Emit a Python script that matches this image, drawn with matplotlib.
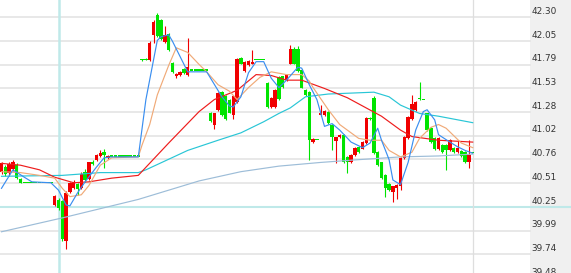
import numpy as np
import matplotlib.pyplot as plt
from matplotlib.patches import Rectangle
from matplotlib import transforms

# candle data (one per bar)
opens = [40.63, 40.68, 40.62, 40.66, 40.70, 40.55, 40.51, 40.51, 40.51, 40.51,
         40.51, 40.51, 40.51, 40.51, 40.27, 40.32, 40.31, 39.88, 40.41, 40.45,
         40.50, 40.45, 40.63, 40.55, 40.74, 40.76, 40.80, 40.84, 40.78, 40.80,
         40.80, 40.80, 40.80, 40.80, 40.80, 40.80, 40.80, 41.84, 41.85, 41.84,
         42.11, 42.32, 42.27, 42.03, 42.12, 41.81, 41.66, 41.68, 41.74, 41.68,
         41.73, 41.73, 41.73, 41.73, 41.73, 41.27, 41.14, 41.30, 41.49, 41.45,
         41.41, 41.24, 41.38, 41.86, 41.72, 41.78, 41.80, 41.84, 41.84, 41.84,
         41.59, 41.33, 41.33, 41.65, 41.66, 41.62, 41.80, 41.96, 41.96, 41.73,
         41.51, 41.49, 40.95, 40.98, 41.24, 41.24, 41.28, 41.14, 40.96, 41.00,
         41.03, 40.79, 40.73, 40.81, 40.90, 40.88, 40.94, 41.21, 41.43, 40.84,
         40.73, 40.59, 40.50, 40.41, 40.45, 40.47, 40.78, 40.99, 41.20, 41.30,
         41.43, 41.41, 41.26, 41.10, 40.99, 40.87, 40.92, 40.92, 40.86, 40.89,
         40.84, 40.85, 40.84, 40.73, 40.84]
highs = [40.74, 40.70, 40.74, 40.76, 40.72, 40.56, 40.51, 40.51, 40.51, 40.51,
         40.51, 40.51, 40.51, 40.51, 40.38, 40.34, 40.32, 40.42, 40.52, 40.54,
         40.51, 40.63, 40.66, 40.74, 40.76, 40.82, 40.86, 40.88, 40.81, 40.80,
         40.80, 40.80, 40.80, 40.80, 40.80, 40.80, 40.80, 41.85, 41.86, 42.04,
         42.27, 42.35, 42.28, 42.21, 42.13, 41.82, 41.70, 41.72, 41.75, 42.08,
         41.73, 41.73, 41.73, 41.73, 41.73, 41.28, 41.27, 41.49, 41.50, 41.46,
         41.42, 41.46, 41.86, 41.87, 41.83, 41.84, 41.95, 41.84, 41.84, 41.84,
         41.60, 41.44, 41.52, 41.66, 41.67, 41.69, 42.00, 41.98, 41.99, 41.74,
         41.52, 41.50, 40.99, 40.98, 41.35, 41.30, 41.29, 41.15, 41.01, 41.04,
         41.04, 40.80, 40.82, 40.90, 40.91, 40.96, 41.22, 41.22, 41.45, 40.85,
         40.74, 40.60, 40.51, 40.48, 40.50, 40.79, 41.02, 41.23, 41.46, 41.39,
         41.60, 41.41, 41.27, 41.11, 41.00, 41.00, 40.93, 40.93, 40.98, 40.90,
         40.97, 40.86, 40.85, 40.97, 40.84]
lows = [40.60, 40.58, 40.58, 40.64, 40.55, 40.51, 40.51, 40.51, 40.51, 40.51,
        40.51, 40.51, 40.51, 40.51, 40.26, 40.22, 39.88, 39.79, 40.40, 40.44,
        40.38, 40.44, 40.52, 40.54, 40.70, 40.75, 40.79, 40.67, 40.77, 40.80,
        40.80, 40.80, 40.80, 40.80, 40.80, 40.80, 40.80, 41.83, 41.84, 41.83,
        42.02, 42.09, 42.05, 42.02, 41.94, 41.70, 41.64, 41.67, 41.69, 41.67,
        41.73, 41.73, 41.73, 41.73, 41.73, 41.17, 41.09, 41.29, 41.23, 41.19,
        41.26, 41.20, 41.37, 41.79, 41.71, 41.77, 41.79, 41.84, 41.84, 41.84,
        41.32, 41.32, 41.32, 41.41, 41.54, 41.61, 41.79, 41.79, 41.71, 41.53,
        41.45, 40.76, 40.94, 40.98, 41.23, 41.23, 41.15, 40.86, 40.72, 40.99,
        40.72, 40.62, 40.72, 40.80, 40.83, 40.87, 40.93, 41.19, 40.82, 40.69,
        40.55, 40.36, 40.42, 40.30, 40.33, 40.43, 40.77, 40.98, 41.19, 41.29,
        41.41, 41.41, 41.07, 40.94, 40.86, 40.86, 40.83, 40.65, 40.85, 40.83,
        40.83, 40.79, 40.72, 40.67, 40.84]
closes = [40.72, 40.60, 40.71, 40.73, 40.56, 40.51, 40.51, 40.51, 40.51, 40.51,
          40.51, 40.51, 40.51, 40.51, 40.37, 40.24, 39.90, 40.40, 40.51, 40.52,
          40.44, 40.61, 40.54, 40.73, 40.71, 40.81, 40.83, 40.81, 40.80, 40.80,
          40.80, 40.80, 40.80, 40.80, 40.80, 40.80, 40.80, 41.84, 41.84, 42.02,
          42.25, 42.10, 42.06, 42.11, 41.95, 41.71, 41.69, 41.71, 41.70, 41.76,
          41.73, 41.73, 41.73, 41.73, 41.73, 41.18, 41.26, 41.48, 41.24, 41.20,
          41.27, 41.45, 41.85, 41.80, 41.82, 41.83, 41.82, 41.84, 41.84, 41.84,
          41.33, 41.43, 41.51, 41.42, 41.55, 41.68, 41.96, 41.80, 41.72, 41.54,
          41.46, 40.97, 40.98, 40.98, 41.27, 41.29, 41.16, 41.00, 41.00, 41.03,
          40.73, 40.73, 40.81, 40.89, 40.84, 40.95, 41.21, 41.20, 40.83, 40.70,
          40.56, 40.45, 40.43, 40.47, 40.49, 40.78, 41.01, 41.22, 41.36, 41.38,
          41.42, 41.41, 41.08, 40.95, 40.87, 40.99, 40.84, 40.86, 40.97, 40.84,
          40.89, 40.80, 40.73, 40.81, 40.84]

# moving average lines, read at selected bars
ma5_idx = [0, 3, 6, 8, 13, 15, 17, 18, 20, 22, 25, 27, 29, 36, 38, 41, 42, 44, 45, 49,
           54, 58, 60, 61, 63, 65, 67, 69, 71, 73, 75, 78, 79, 81, 83, 85, 87, 89, 92, 95,
           97, 99, 100, 102, 103, 105, 107, 109, 111, 112, 114, 115, 118, 120, 122, 124]
ma5_val = [40.45, 40.65, 40.57, 40.52, 40.51, 40.43, 40.27, 40.26, 40.40, 40.52,
           40.68, 40.78, 40.79, 40.79, 41.41, 42.05, 42.09, 42.11, 42.04, 41.71,
           41.71, 41.44, 41.34, 41.33, 41.44, 41.70, 41.82, 41.82, 41.64, 41.54,
           41.62, 41.76, 41.75, 41.57, 41.41, 41.12, 41.15, 41.08, 40.95, 40.89,
           40.94, 41.10, 40.97, 40.76, 40.54, 40.49, 40.73, 41.08, 41.28, 41.30,
           41.19, 41.03, 40.95, 40.90, 40.86, 40.83]
ma10_idx = [0, 5, 10, 14, 16, 18, 21, 23, 26, 29, 36, 37, 39, 41, 44, 46, 49, 52, 54, 57,
            60, 62, 65, 68, 71, 75, 79, 81, 82, 86, 89, 94, 97, 100, 102, 105, 108, 110,
            113, 115, 117, 121, 124]
ma10_val = [40.63, 40.62, 40.59, 40.56, 40.45, 40.36, 40.38, 40.48, 40.70, 40.78,
            40.79, 40.92, 41.14, 41.46, 41.78, 41.97, 41.92, 41.79, 41.71, 41.57,
            41.50, 41.41, 41.54, 41.65, 41.71, 41.68, 41.68, 41.61, 41.54, 41.30,
            41.14, 40.99, 40.97, 40.97, 40.86, 40.79, 40.84, 40.99, 41.11, 41.14,
            41.10, 40.94, 40.89]
ma20_idx = [0, 5, 10, 14, 19, 23, 29, 36, 44, 52, 56, 62, 67, 71, 75, 79, 81, 85, 91,
            100, 105, 108, 115, 124]
ma20_val = [40.72, 40.70, 40.65, 40.57, 40.51, 40.52, 40.56, 40.59, 40.94, 41.28,
            41.41, 41.51, 41.68, 41.67, 41.62, 41.62, 41.59, 41.53, 41.43, 41.23,
            41.08, 41.01, 40.97, 40.95]
ma30_idx = [0, 16, 26, 36, 38, 49, 57, 63, 69, 73, 76, 80, 86, 98, 102, 105, 110, 115, 124]
ma30_val = [40.58, 40.59, 40.62, 40.62, 40.65, 40.86, 40.97, 41.05, 41.17, 41.26,
            41.32, 41.44, 41.47, 41.49, 41.44, 41.35, 41.26, 41.23, 41.16]
ma60_idx = [0, 16, 36, 52, 63, 73, 84, 94, 105, 115, 124]
ma60_val = [39.98, 40.13, 40.33, 40.53, 40.63, 40.69, 40.73, 40.76, 40.79, 40.80, 40.82]

tick_labels = ['39.48', '39.74', '39.99', '40.25', '40.51', '40.76',
               '41.02', '41.28', '41.53', '41.79', '42.05', '42.30']
tick_lo, tick_hi = 39.48, 42.30
cursor_bar = 15
cursor_price = 40.249

RED = '#f00000'
GREEN = '#00e400'

W, H = 571, 273
fig = plt.figure(figsize=(W / 100, H / 100), dpi=100)
fig.patch.set_facecolor('white')
ax = fig.add_axes([0, 0, 1, 1])
ax.set_axis_off()

# pixel layout: bar spacing 3.8 px, first bar at 1.5 px, price panel from 530 px
dx, x0, panel_px = 3.8, 1.5, 530
ax.set_xlim(-x0 / dx, (W - x0) / dx)
ax.set_ylim(39.534, 42.487)
panel = panel_px / W

ticks = np.linspace(tick_lo, tick_hi, len(tick_labels))

ax.add_patch(Rectangle((panel, 0), 1 - panel, 1, transform=ax.transAxes,
                       facecolor='#f0f0f0', edgecolor='none', zorder=0.5))

for t in ticks:
    ax.axhline(t, 0, panel, color='#e6e6e6', lw=1.3, zorder=1)

trans = transforms.offset_copy(ax.get_yaxis_transform(), fig=fig, x=1.5, y=3.3, units='dots')
for t, lab in zip(ticks, tick_labels):
    ax.text(panel, t, lab, transform=trans, ha='left', va='baseline',
            fontsize=6.4, color='#333333', clip_on=False, zorder=5)

n = len(opens)
o = np.array(opens)
c = np.array(closes)
hi = np.array(highs)
lo = np.array(lows)
x = np.arange(n)

# crosshair and last-bar marker
ax.axhline(cursor_price, color='#bfe9e9', lw=1.5, zorder=1.5)
ax.axvline(cursor_bar, color='#bfe9e9', lw=1.8, zorder=1.5)
ax.axvline(n - 1, color='#dedede', lw=0.9, zorder=1.5)

colors = np.where(c > o, RED, GREEN)
ax.vlines(x, lo, hi, colors=colors, lw=0.8, zorder=3)
bottoms = np.minimum(o, c)
heights = np.abs(c - o)
flat = heights < 0.012
bottoms = np.where(flat, (o + c) / 2 - 0.006, bottoms)
heights = np.where(flat, 0.012, heights)
ax.bar(x, heights, width=0.9, bottom=bottoms, color=colors, linewidth=0, zorder=3)

ax.plot(ma60_idx, ma60_val, color='#9dbdd8', lw=0.85, zorder=4)
ax.plot(ma30_idx, ma30_val, color='#29c6d6', lw=0.85, zorder=4)
ax.plot(ma20_idx, ma20_val, color='#ee1c1c', lw=0.85, zorder=4)
ax.plot(ma10_idx, ma10_val, color='#f0aa78', lw=0.85, zorder=4)
ax.plot(ma5_idx, ma5_val, color='#3a8ef0', lw=0.85, zorder=4)

fig.savefig('out.png', dpi=100)
